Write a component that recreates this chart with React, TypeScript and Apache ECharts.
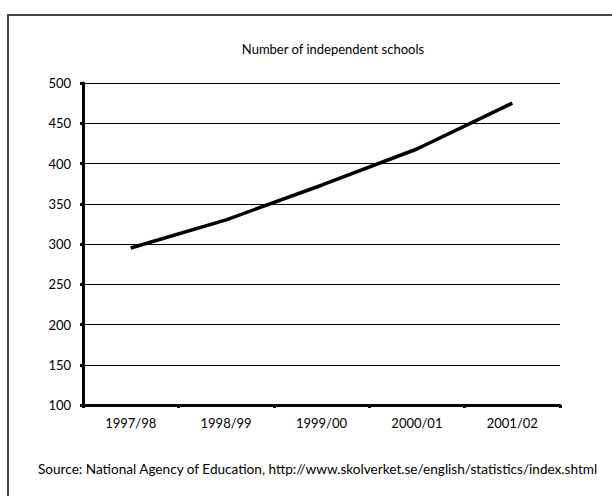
import React, { useEffect, useRef } from "react";
import * as echarts from "echarts";

const categories = ["1997/98", "1998/99", "1999/00", "2000/01", "2001/02"];
const schools = [295, 330, 373, 418, 475];
const yTicks = [100, 150, 200, 250, 300, 350, 400, 450, 500];
const titleText = "Number of independent schools";
const sourceText = "Source: National Agency of Education, http://www.skolverket.se/english/statistics/index.shtml";

const FONT = "Lato, 'Open Sans', sans-serif";

export default function App() {
  const ref = useRef<HTMLDivElement>(null);
  useEffect(() => {
    if (!ref.current) return;
    const chart = echarts.init(ref.current, undefined, { renderer: "svg" });
    chart.setOption({
      animation: false,
      backgroundColor: "#ffffff",
      title: {
        text: titleText,
        left: 328,
        top: 37,
        textAlign: "center",
        textStyle: { fontFamily: FONT, fontSize: 13, fontWeight: "normal", color: "#000" },
      },
      grid: { left: 83, right: 52, top: 83, bottom: 91, containLabel: false },
      xAxis: {
        type: "category",
        data: categories,
        boundaryGap: true,
        axisLine: { show: true, onZero: false, lineStyle: { color: "#000", width: 3 } },
        axisTick: { show: true, inside: false, length: 3, lineStyle: { color: "#000", width: 3 } },
        axisLabel: { fontFamily: FONT, fontSize: 13, color: "#000", margin: 11 },
        splitLine: { show: false },
      },
      yAxis: {
        type: "value",
        min: yTicks[0],
        max: yTicks[yTicks.length - 1],
        interval: 50,
        axisLine: { show: true, lineStyle: { color: "#000", width: 3 } },
        axisTick: { show: true, length: 3, lineStyle: { color: "#000", width: 3 } },
        axisLabel: { fontFamily: FONT, fontSize: 13, color: "#000", margin: 12 },
        splitLine: { show: true, lineStyle: { color: "#000", width: 1 } },
      },
      series: [
        {
          type: "line",
          data: schools,
          showSymbol: false,
          symbol: "none",
          lineStyle: { color: "#000", width: 3.5 },
        },
      ],
      graphic: [
        {
          type: "rect",
          shape: { x: 8, y: 15, width: 640, height: 520 },
          style: { fill: "none", stroke: "#444", lineWidth: 2 },
          silent: true,
        },
        {
          type: "text",
          left: 38,
          top: 462,
          style: { text: sourceText, fontFamily: FONT, fontSize: 13.6, fill: "#000" },
        },
      ],
    });
    return () => chart.dispose();
  }, []);
  return (
    <div
      ref={ref}
      style={{ position: "fixed", left: 0, top: 0, width: 612, height: 496 }}
    />
  );
}
